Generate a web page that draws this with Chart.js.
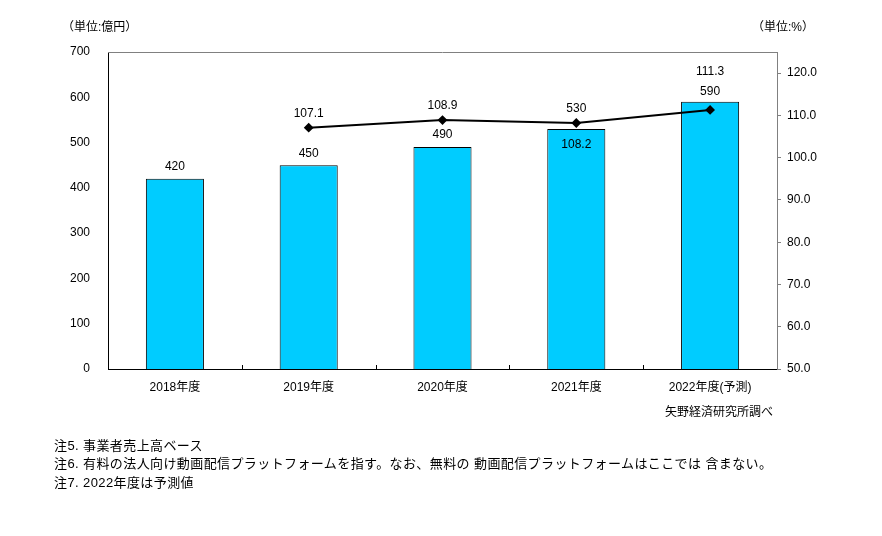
<!DOCTYPE html>
<html>
<head>
<meta charset="utf-8">
<script src="https://cdn.jsdelivr.net/npm/chart.js@4.4.1/dist/chart.umd.min.js"></script>
<style>
  body { margin: 0; background: #fff; }
  #wrap { position: relative; width: 882px; height: 536px; font-family: "Liberation Sans", "Noto Sans CJK JP", sans-serif; color: #000; }
  #wrap canvas { position: absolute; left: 0; top: 0; }
  .txt { position: absolute; font-size: 12px; white-space: pre; line-height: 14px; }
  .note { font-size: 13px; letter-spacing: 0.4px; left: 54px; }
</style>
</head>
<body>
<div id="wrap">
  <canvas id="c" width="882" height="536"></canvas>
  <div class="txt" style="left:62px; top:20px;">（単位:億円）</div>
  <div class="txt" style="left:752px; top:20px;">（単位:%）</div>
  <div class="txt" style="left:665px; top:405px;">矢野経済研究所調べ</div>
  <div class="txt note" style="top:439px;">注5. 事業者売上高ベース</div>
  <div class="txt note" style="top:457px;">注6. 有料の法人向け動画配信プラットフォームを指す。なお、無料の 動画配信プラットフォームはここでは 含まない。</div>
  <div class="txt note" style="top:476px;">注7. 2022年度は予測値</div>
</div>
<script>
// データ
const years = ['2018年度', '2019年度', '2020年度', '2021年度', '2022年度(予測)'];
const sales = [420, 450, 490, 530, 590];          // 億円
const growth = [null, 107.1, 108.9, 108.2, 111.3]; // 前年比 %
const leftTicks = [0, 100, 200, 300, 400, 500, 600, 700];
const rightTicks = [50, 60, 70, 80, 90, 100, 110, 120];

// ラベル配置（見た目用）
const labelStyle = ['top', 'top', 'top', 'swap', 'stack'];

const decor = {
    id: 'decor',
    afterDatasetsDraw(chart) {
        const { ctx, chartArea: a, scales } = chart;
        ctx.save();
        // 上枠
        ctx.strokeStyle = '#808080';
        ctx.lineWidth = 1;
        ctx.beginPath();
        ctx.moveTo(a.left, a.top + 0.5);
        ctx.lineTo(a.right, a.top + 0.5);
        ctx.stroke();
        // x軸の内向き目盛
        ctx.strokeStyle = '#000';
        for (let i = 1; i < years.length; i++) {
            const x = Math.round((scales.x.getPixelForValue(i - 1) + scales.x.getPixelForValue(i)) / 2) + 0.5;
            ctx.beginPath();
            ctx.moveTo(x, a.bottom);
            ctx.lineTo(x, a.bottom - 4);
            ctx.stroke();
        }
        // 数値ラベル
        ctx.fillStyle = '#000';
        ctx.font = '12px "Liberation Sans", "Noto Sans CJK JP", sans-serif';
        ctx.textAlign = 'center';
        ctx.textBaseline = 'middle';
        const bars = chart.getDatasetMeta(0).data;
        const pts = chart.getDatasetMeta(1).data;
        bars.forEach((bar, i) => {
            const p = pts[i];
            const st = labelStyle[i];
            let by = bar.y - 12, ly = p ? p.y - 14 : null;
            if (st === 'swap') { by = p.y - 14; ly = bar.y + 16; }
            if (st === 'stack') { by = bar.y - 10; ly = p.y - 38; }
            ctx.fillText(String(sales[i]), bar.x, by);
            if (growth[i] != null) ctx.fillText(growth[i].toFixed(1), p.x, ly);
        });
        ctx.restore();
    }
};

new Chart(document.getElementById('c'), {
    data: {
        labels: years,
        datasets: [
            { type: 'bar', data: sales, yAxisID: 'y', backgroundColor: '#00CCFF', borderColor: '#000', borderWidth: 1, barPercentage: 0.434, categoryPercentage: 1, order: 2 },
            { type: 'line', data: growth, yAxisID: 'y1', borderColor: '#000', borderWidth: 2, pointStyle: 'rectRot', pointRadius: 3.5, pointBackgroundColor: '#000', pointBorderColor: '#000', tension: 0, order: 1 }
        ]
    },
    options: {
        responsive: false,
        animation: false,
        devicePixelRatio: 1,
        layout: { padding: { top: 52, left: 0, right: 0, bottom: 0 } },
        plugins: { legend: { display: false }, tooltip: { enabled: false } },
        font: { family: '"Liberation Sans", "Noto Sans CJK JP", sans-serif', size: 12 },
        scales: {
            x: {
                grid: { display: false },
                border: { color: '#000', width: 1 },
                ticks: { color: '#000', padding: 3, font: { size: 12 }, maxRotation: 0 },
                afterFit: s => { s.height = 167; }
            },
            y: {
                position: 'left', min: 0, max: 700,
                grid: { display: false },
                border: { color: '#000', width: 1 },
                ticks: { color: '#000', padding: 10, font: { size: 12 } },
                afterBuildTicks: s => { s.ticks = leftTicks.map(v => ({ value: v })); },
                afterFit: s => { s.width = 108; }
            },
            y1: {
                position: 'right', min: 50, max: 125,
                grid: { drawOnChartArea: false, drawTicks: true, tickLength: 4, color: '#808080' },
                border: { color: '#808080', width: 1 },
                ticks: { color: '#000', padding: 6, font: { size: 12 }, callback: v => v.toFixed(1) },
                afterBuildTicks: s => { s.ticks = rightTicks.map(v => ({ value: v })); },
                afterFit: s => { s.width = 105; }
            }
        }
    },
    plugins: [decor]
});
</script>
</body>
</html>
